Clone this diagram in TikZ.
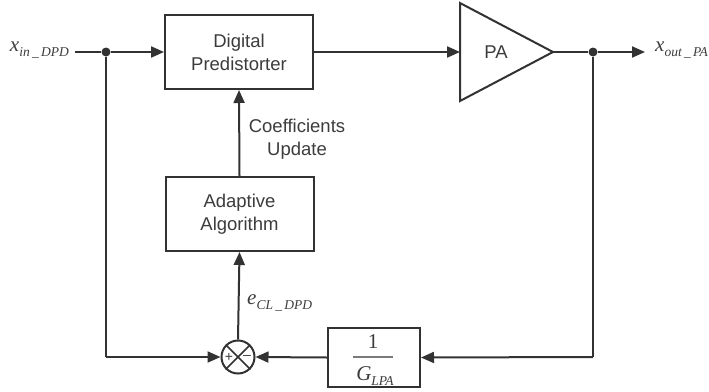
\documentclass[tikz,border=0pt]{standalone}
\usepackage{fontspec}
\setmainfont{Liberation Sans}
\newfontfamily\tms{Liberation Serif}
\usetikzlibrary{arrows.meta}
\definecolor{ln}{RGB}{50,50,50}
\definecolor{tx}{RGB}{60,60,60}
\tikzset{
  wire/.style={line width=2pt, draw=ln},
  arr/.style={wire, -{Triangle[length=13pt,width=11pt]}},
  blockbox/.style={draw=ln, line width=2pt, fill=white, align=center, text=tx,
    font=\fontsize{18.5}{23}\selectfont, inner sep=0pt},
  dotnode/.style={circle, fill=ln, inner sep=0pt, minimum size=9pt},
  lbl/.style={text=tx, font=\fontsize{18.5}{23}\selectfont, align=center, inner sep=0pt},
  ital/.style={text=tx, font=\tms\itshape\fontsize{21}{22}\selectfont, inner sep=0pt}
}
\newcommand{\subtx}[1]{\raisebox{-0.45ex}{\fontsize{13.5}{14}\selectfont #1}}
\begin{document}
\begin{tikzpicture}[x=1pt,y=-1pt]
\useasboundingbox (0,0) rectangle (709,391);
% blocks
\node[blockbox, minimum width=148pt, minimum height=74pt] (dpd) at (239,52) {Digital\\Predistorter};
\node[blockbox, minimum width=148pt, minimum height=74pt] (adapt) at (239.5,214) {Adaptive\\Algorithm};
\node[blockbox, minimum width=92pt, minimum height=59pt] (gbox) at (374,357.5) {};
\node[text=tx, font=\tms\fontsize{21}{22}\selectfont, inner sep=0pt] (one) at (373,342) {1};
\node[ital] (glpa) at (375,376) {G\subtx{LPA}};
\draw[line width=1.3pt, draw=ln!65] (353,357) -- (393,357);
% PA triangle
\coordinate (pain) at (460,52);
\coordinate (paout) at (553,52);
\draw[wire, line join=miter, fill=white] (460,3) -- (553,52) -- (460,101) -- cycle;
\node[lbl] (palbl) at (496,52) {PA};
% summing junction
\node[circle, draw=ln, line width=2pt, minimum size=33pt, inner sep=0pt] (sum) at (238,357) {};
\draw[wire, line width=1.5pt] (sum.north west) -- (sum.south east);
\draw[wire, line width=1.5pt] (sum.north east) -- (sum.south west);
\node[text=tx, font=\fontsize{14}{14}\selectfont, inner sep=0pt] (plus) at ([xshift=-9pt]sum.center) {+};
\node[text=tx, font=\fontsize{14}{14}\selectfont, inner sep=0pt] (minus) at ([xshift=9pt]sum.center) {\textendash};
% dots and terminals
\node[dotnode] (d1) at (106,52) {};
\node[dotnode] (d2) at (593,52) {};
\coordinate (inp) at (75,52);
\coordinate (outp) at (645,52);
\coordinate (c1) at (106,357);
\coordinate (c2) at (593,357);
\node[ital, anchor=east] (xin) at (69,50) {x\subtx{in\,\_\,DPD}};
\node[ital, anchor=west] (xout) at (655,50) {x\subtx{out\,\_\,PA}};
% wires
\draw[wire] (inp) -- (d1);
\draw[arr] (d1) -- (dpd.west);
\draw[arr] (dpd.east) -- (pain);
\draw[wire] (paout) -- (d2);
\draw[arr] (d2) -- (outp);
\draw[arr] (adapt.north) -- (dpd.south);
\draw[arr] (sum.north) -- (adapt.south);
\draw[wire] (d1) -- (c1);
\draw[arr] (c1) -- (sum.west);
\draw[wire] (d2) -- (c2);
\draw[arr] (c2) -- (gbox.east);
\draw[arr] (gbox.west) -- (sum.east);
% labels
\node[lbl] (coef) at (297,139) {Coefficients\\Update};
\node[ital, anchor=west] (ecl) at (247,303) {e\subtx{CL\,\_\,DPD}};
\end{tikzpicture}
\end{document}
